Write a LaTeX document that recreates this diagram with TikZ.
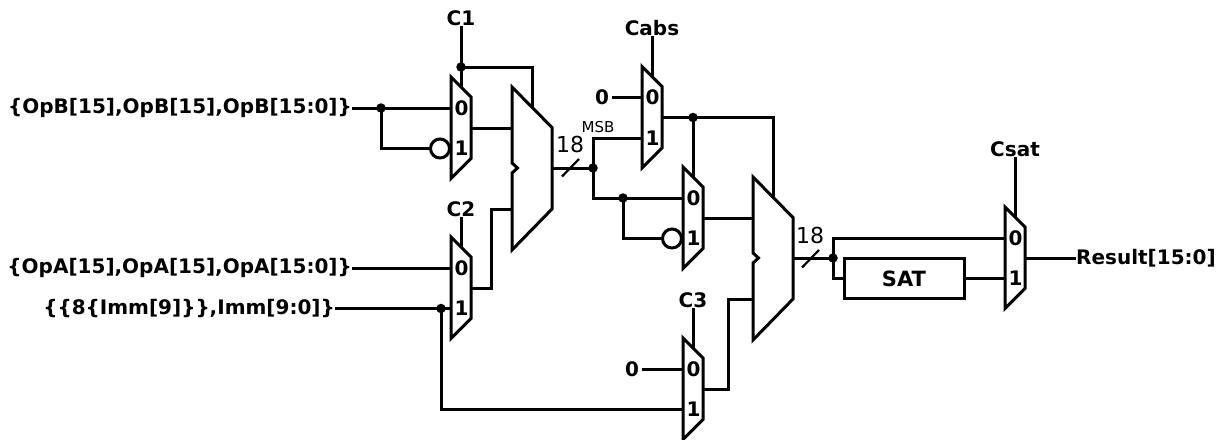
\documentclass[tikz,border=0pt]{standalone}
\usepackage{fontspec}
\setmainfont{DejaVu Sans}
\usepackage{tikz}

\tikzset{
	wire/.style={line width=3pt,line join=miter},
	dot/.style={circle,fill=black,inner sep=0pt,minimum size=9.5pt},
	bubble/.style={circle,draw,line width=3pt,inner sep=0pt,minimum size=19pt},
	sig/.style={font=\fontsize{20}{20}\selectfont\bfseries,inner sep=0pt},
	width/.style={font=\fontsize{22}{22}\selectfont,inner sep=0pt},
	satbox/.style={draw,line width=3pt,minimum width=120pt,minimum height=40pt,inner sep=0pt,font=\fontsize{21}{21}\selectfont\bfseries},
}

% #1 name, #2 x of left side, #3 y of top corner
\newcommand{\smallmux}[3]{
	\coordinate (#1in0) at (#2,#3+31);
	\coordinate (#1in1) at (#2,#3+71.5);
	\coordinate (#1out) at (#2+20,#3+51);
	\coordinate (#1sel) at (#2+10,#3+10);
	\draw[wire] (#2,#3) -- (#2+20,#3+20) -- (#2+20,#3+81.5) -- (#2,#3+101.5) -- cycle;
	\node[sig] at (#2+10.5,#3+31) {0};
	\node[sig] at (#2+10.5,#3+71.5) {1};
}
% #1 name, #2 x of left side, #3 y of top corner
\newcommand{\bigmux}[3]{
	\coordinate (#1a) at (#2,#3+41);
	\coordinate (#1b) at (#2,#3+122);
	\coordinate (#1sel) at (#2+20,#3+20);
	\coordinate (#1out) at (#2+40,#3+81);
	\draw[wire] (#2,#3) -- (#2+40,#3+40.5) -- (#2+40,#3+122) -- (#2,#3+163)
		-- (#2,#3+86) -- (#2+5.5,#3+81) -- (#2,#3+76) -- cycle;
}

\begin{document}
\begin{tikzpicture}[x=1pt,y=-1pt]
	\useasboundingbox (0,0) rectangle (1225,439);

	\smallmux{ma}{451}{77}
	\smallmux{mb}{451}{237}
	\smallmux{mc}{642}{66.5}
	\smallmux{md}{683}{167}
	\smallmux{me}{683}{338}
	\smallmux{mf}{1005}{207}
	\bigmux{addl}{512}{87}
	\bigmux{addr}{753}{177}

	\node[sig,anchor=east] (opb) at (352,108) {\{OpB[15],OpB[15],OpB[15:0]\}};
	\node[sig,anchor=east] (opa) at (352,268) {\{OpA[15],OpA[15],OpA[15:0]\}};
	\node[sig,anchor=east] (imm) at (335,308.5) {\{\{8\{Imm[9]\}\},Imm[9:0]\}};
	\node[sig,anchor=west] (res) at (1076,258) {Result[15:0]};
	\node[sig] (c1) at (461,18) {C1};
	\node[sig] (c2) at (461,209) {C2};
	\node[sig] (c3) at (693,300) {C3};
	\node[sig] (cabs) at (652,28) {Cabs};
	\node[sig] (csat) at (1015,149) {Csat};
	\node[sig] (zeroa) at (602,97.5) {0};
	\node[sig] (zerob) at (632,369) {0};
	\node[satbox] (sat) at (904,278.5) {SAT};

	\node[width] (wa) at (570,144) {18};
	\node[width] (wb) at (810,235) {18};
	\node[font=\fontsize{15}{15}\selectfont,inner sep=0pt] (msb) at (598,127) {MSB};

	\node[bubble,anchor=east] (nota) at (main1) {};
	\node[bubble,anchor=east] (notb) at (mdin1) {};

	\node[dot] (da) at (381,108) {};
	\node[dot] (db) at (441,308.5) {};
	\node[dot] (dc) at (461,67) {};
	\node[dot] (dd) at (593,168) {};
	\node[dot] (de) at (623,198) {};
	\node[dot] (df) at (693,117.5) {};
	\node[dot] (dg) at (833,258) {};

	\draw[wire] (opb.east) -- (main0);
	\draw[wire] (da.center) |- (nota.west);
	\draw[wire] (opa.east) -- (mbin0);
	\draw[wire] (imm.east) -- (mbin1);
	\draw[wire] (db.center) |- (mein1);
	\draw[wire] (c1.south) -- (masel);
	\draw[wire] (dc.center) -| (addlsel);
	\draw[wire] (c2.south) -- (mbsel);
	\draw[wire] (c3.south) -- (mesel);
	\draw[wire] (cabs.south) -- (mcsel);
	\draw[wire] (csat.south) -- (mfsel);
	\draw[wire] (maout) -- (addla);
	\draw[wire] (mbout) -| (491,248) |- (addlb);
	\draw[wire] (addlout) -- (dd.center);
	\draw[wire] (dd.center) |- (mcin1);
	\draw[wire] (dd.center) |- (mdin0);
	\draw[wire] (de.center) |- (notb.west);
	\draw[wire] (zeroa.east) ++(3,0) -- (mcin0);
	\draw[wire] (zerob.east) ++(3,0) -- (mein0);
	\draw[wire] (mcout) -| (addrsel);
	\draw[wire] (df.center) -- (mdsel);
	\draw[wire] (mdout) -- (addra);
	\draw[wire] (meout) -| (728,344) |- (addrb);
	\draw[wire] (addrout) -- (dg.center);
	\draw[wire] (dg.center) |- (mfin0);
	\draw[wire] (dg.center) |- (sat.west);
	\draw[wire] (sat.east) -- (mfin1);
	\draw[wire] (mfout) -- (res.west);

	% bus width ticks
	\draw[line width=2.2pt] ([shift={(-31,8.5)}]dd.center) -- ([shift={(-14,-9)}]dd.center);
	\draw[line width=2.2pt] ([shift={(-31,9.5)}]dg.center) -- ([shift={(-14,-8)}]dg.center);
\end{tikzpicture}
\end{document}
